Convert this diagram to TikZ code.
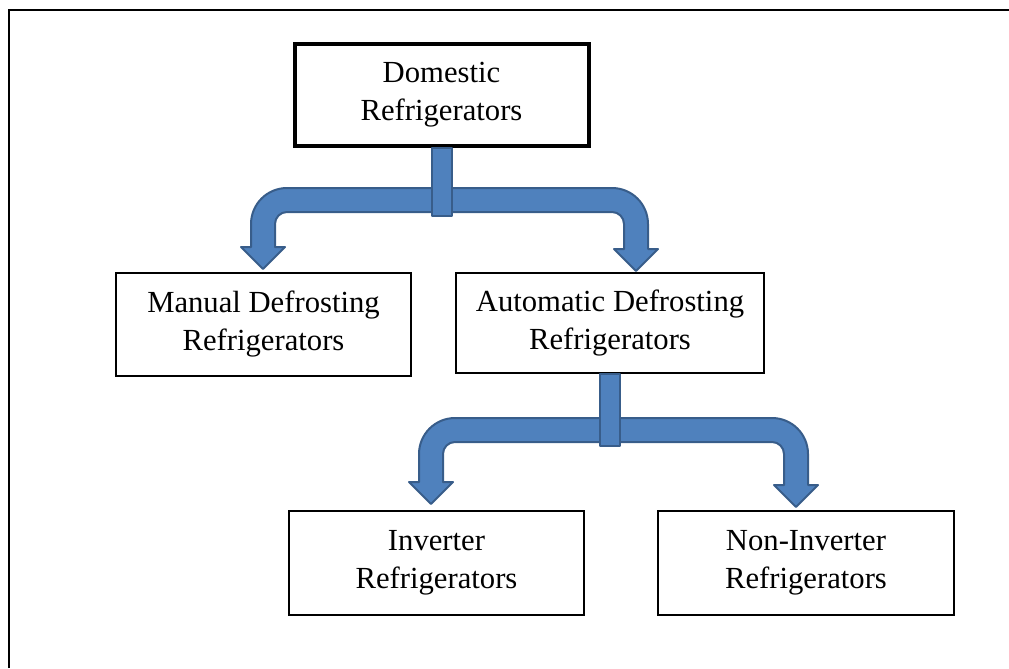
\documentclass[tikz,border=0pt]{standalone}
\usepackage{fontspec}
\setmainfont{Liberation Serif}
\usepackage{tikz}
\usetikzlibrary{calc}
\definecolor{arrowfill}{HTML}{4F81BD}
\definecolor{arrowline}{HTML}{385D8A}
\tikzset{box/.style={draw, line width=1.5pt, align=center, inner sep=0pt, font=\fontsize{23}{28.5}\selectfont}}
\tikzset{topbox/.style={box, line width=3pt}}
\tikzset{branch/.style={fill=arrowfill, draw=arrowline, line width=1.5pt, line join=round}}
\tikzset{frame/.style={line width=1.5pt}}
% bent double arrow: #1 stem top, #2 bar centre, #3 left tip, #4 right tip
\newcommand{\branch}[4]{%
  \path[branch] let \p1=(#3), \p2=(#4), \p3=(#2) in
    (\x1-9pt,\y1+16.5pt) -- (\x1-9pt,\y3-18pt)
    arc[start angle=180, end angle=90, radius=27pt]
    -- (\x2-18pt,\y3+9pt)
    arc[start angle=90, end angle=0, radius=27pt]
    -- (\x2+9pt,\y2+16.5pt) -- (\x2+16.5pt,\y2+16.5pt) -- (\x2,\y2)
    -- (\x2-16.5pt,\y2+16.5pt) -- (\x2-9pt,\y2+16.5pt) -- (\x2-9pt,\y3-18pt)
    arc[start angle=0, end angle=90, radius=9pt]
    -- (\x1+18pt,\y3-9pt)
    arc[start angle=90, end angle=180, radius=9pt]
    -- (\x1+9pt,\y1+16.5pt) -- (\x1+16.5pt,\y1+16.5pt) -- (\x1,\y1)
    -- (\x1-16.5pt,\y1+16.5pt) -- cycle;
  \path[branch] let \p1=(#1), \p3=(#2) in
    (\x1-7.5pt,\y1) rectangle (\x1+7.5pt,\y3-12pt);
}
\begin{document}
\begin{tikzpicture}[x=0.75pt, y=-0.75pt]
        \useasboundingbox (0,0) rectangle (1009,668);
        % Frame
        \draw[frame] (9,668) -- (9,10) -- (1009,10);
        % Boxes
        \node[topbox, minimum width=220.5pt, minimum height=76.5pt] (dom) at (441.5,94.5) {Domestic\\Refrigerators};
        \node[box, minimum width=221.25pt, minimum height=77.25pt] (man) at (263.5,324.5) {Manual Defrosting\\Refrigerators};
        \node[box, minimum width=231pt, minimum height=75pt] (auto) at (610,323) {Automatic Defrosting\\Refrigerators};
        \node[box, minimum width=221.25pt, minimum height=78pt] (inv) at (436.5,563) {Inverter\\Refrigerators};
        \node[box, minimum width=222pt, minimum height=78pt] (non) at (806,563) {Non-Inverter\\Refrigerators};
        % Arrows
        \coordinate (bar1) at (445,200);
        \coordinate (tipman) at (263,269);
        \coordinate (tipauto) at (636,271);
        \coordinate (bar2) at (609,430);
        \coordinate (tipinv) at (431,504);
        \coordinate (tipnon) at (796,507);
        \branch{dom.south}{bar1}{tipman}{tipauto}
        \branch{auto.south}{bar2}{tipinv}{tipnon}
\end{tikzpicture}
\end{document}
